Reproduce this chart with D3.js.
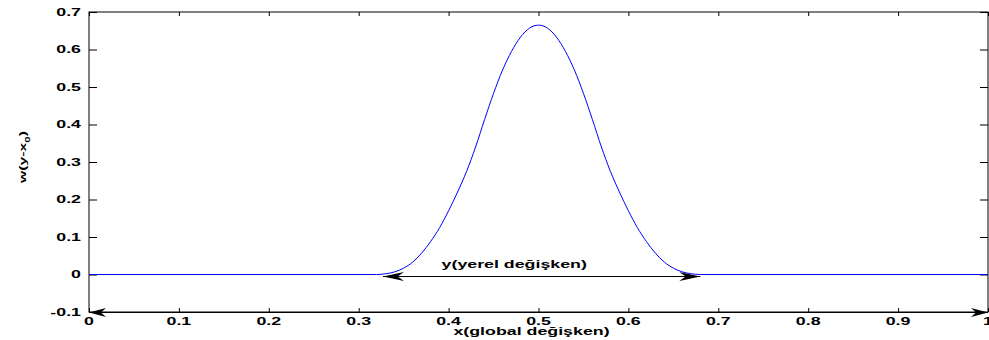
<!DOCTYPE html>
<html>
<head>
<meta charset="utf-8">
<script src="https://cdn.jsdelivr.net/npm/d3@7"></script>
<style>
  html, body { margin: 0; padding: 0; background: #fff; }
  svg { display: block; }
  text { font-family: "Liberation Sans", Arial, Helvetica, sans-serif; font-weight: bold; fill: #000; }
</style>
</head>
<body>
<svg id="chart" width="989" height="340"></svg>
<script>
// Weight function w(y - x0) sampled along the global coordinate x
const xValues = [0, 0.32, 0.33, 0.34, 0.35, 0.36, 0.37, 0.38, 0.39, 0.40, 0.41, 0.42, 0.43, 0.44, 0.45, 0.46, 0.47, 0.48, 0.49, 0.50,
                 0.51, 0.52, 0.53, 0.54, 0.55, 0.56, 0.57, 0.58, 0.59, 0.60, 0.61, 0.62, 0.63, 0.64, 0.65, 0.66, 0.67, 0.68, 1];
const wValues = [0, 0, 0.002, 0.007, 0.017, 0.033, 0.057, 0.088, 0.125, 0.170, 0.220, 0.275, 0.340, 0.413, 0.483, 0.545, 0.595, 0.633, 0.657, 0.665,
                 0.657, 0.633, 0.595, 0.545, 0.483, 0.413, 0.340, 0.275, 0.220, 0.170, 0.125, 0.088, 0.057, 0.033, 0.017, 0.007, 0.002, 0, 0];

const xTicks = [0, 0.1, 0.2, 0.3, 0.4, 0.5, 0.6, 0.7, 0.8, 0.9, 1];
const xTickLabels = ["0", "0.1", "0.2", "0.3", "0.4", "0.5", "0.6", "0.7", "0.8", "0.9", "1"];
const yTicks = [-0.1, 0, 0.1, 0.2, 0.3, 0.4, 0.5, 0.6, 0.7];
const yTickLabels = ["-0.1", "0", "0.1", "0.2", "0.3", "0.4", "0.5", "0.6", "0.7"];

// Double-headed arrows: global span along the axis, local support of the kernel
const arrowStarts = [0, 0.327];
const arrowEnds = [1, 0.68];
const arrowLevels = [-0.1, -0.004];
const arrowHeadLengths = [17, 21];

const xLabel = "x(global değişken)";
const supportLabel = "y(yerel değişken)";
const supportLabelPos = [0.473, 0.02];

const svg = d3.select("#chart");
const plotLeft = 89, plotRight = 988, plotTop = 12, plotBottom = 312;
const stretch = 1.78;

const x = d3.scaleLinear().domain([0, 1]).range([plotLeft, plotRight]);
const y = d3.scaleLinear().domain([-0.1, 0.7]).range([plotBottom, plotTop]);

// Inward ticks on all four sides
const axisStyle = g => {
  g.select(".domain").remove();
  g.selectAll(".tick line").attr("stroke", "#000").attr("stroke-width", 1);
  g.selectAll(".tick text").remove();
};
svg.append("g").attr("transform", `translate(0,${plotBottom})`)
  .call(d3.axisBottom(x).tickValues(xTicks).tickSize(-4)).call(axisStyle);
svg.append("g").attr("transform", `translate(0,${plotTop})`)
  .call(d3.axisTop(x).tickValues(xTicks).tickSize(-4)).call(axisStyle);
svg.append("g").attr("transform", `translate(${plotLeft},0)`)
  .call(d3.axisLeft(y).tickValues(yTicks).tickSize(-8)).call(axisStyle);
svg.append("g").attr("transform", `translate(${plotRight},0)`)
  .call(d3.axisRight(y).tickValues(yTicks).tickSize(-8)).call(axisStyle);

// Plot box
svg.append("rect")
  .attr("x", plotLeft).attr("y", plotTop)
  .attr("width", plotRight - plotLeft).attr("height", plotBottom - plotTop)
  .attr("fill", "none").attr("stroke", "#000").attr("stroke-width", 1);

// Tick labels
svg.append("g").selectAll("text").data(yTicks).join("text")
  .attr("transform", d => `translate(81,${y(d)}) scale(${stretch},1)`)
  .attr("text-anchor", "end").attr("dy", "0.36em")
  .attr("font-size", 10)
  .text((d, i) => yTickLabels[i]);
svg.append("g").selectAll("text").data(xTicks).join("text")
  .attr("transform", d => `translate(${x(d)},324.5) scale(${stretch},1)`)
  .attr("text-anchor", "middle")
  .attr("font-size", 10)
  .text((d, i) => xTickLabels[i]);

// Axis titles
svg.append("text")
  .attr("transform", `translate(${(plotLeft + plotRight) / 2 - 7},335) scale(${stretch},1)`)
  .attr("text-anchor", "middle").attr("font-size", 10)
  .text(xLabel);

const yTitle = svg.append("text")
  .attr("transform", "translate(26,157) rotate(-90) scale(1.75,1.05)")
  .attr("text-anchor", "middle").attr("font-size", 9);
yTitle.append("tspan").text("w(y-x");
yTitle.append("tspan").attr("font-size", 6.5).attr("dy", 3.5).text("0");
yTitle.append("tspan").attr("dy", -3.5).text(")");

// Weight curve
const line = d3.line()
  .x((d, i) => x(xValues[i]))
  .y(d => y(d))
  .curve(d3.curveMonotoneX);
svg.append("path")
  .datum(wValues)
  .attr("d", line)
  .attr("fill", "none")
  .attr("stroke", "#0000ff")
  .attr("stroke-width", 1);

// Arrows with swept-back heads at both ends
function head(tipX, tipY, dir, len) {
  const w = 4.5, notch = 0.7 * len;
  return `M${tipX},${tipY}` +
    `L${tipX - dir * len},${tipY - w}` +
    `L${tipX - dir * notch},${tipY}` +
    `L${tipX - dir * len},${tipY + w}Z`;
}
arrowStarts.forEach((s, i) => {
  const x1 = x(s), x2 = x(arrowEnds[i]), yy = Math.round(y(arrowLevels[i])) + 0.5;
  const g = svg.append("g");
  g.append("line").attr("x1", x1).attr("x2", x2).attr("y1", yy).attr("y2", yy)
    .attr("stroke", "#000").attr("stroke-width", 1.2);
  g.append("path").attr("d", head(x1, yy, -1, arrowHeadLengths[i])).attr("fill", "#000");
  g.append("path").attr("d", head(x2, yy, 1, arrowHeadLengths[i])).attr("fill", "#000");
});

svg.append("text")
  .attr("transform", `translate(${x(supportLabelPos[0])},${y(supportLabelPos[1]) + 0.5}) scale(${stretch},1)`)
  .attr("text-anchor", "middle").attr("font-size", 10)
  .text(supportLabel);
</script>
</body>
</html>
